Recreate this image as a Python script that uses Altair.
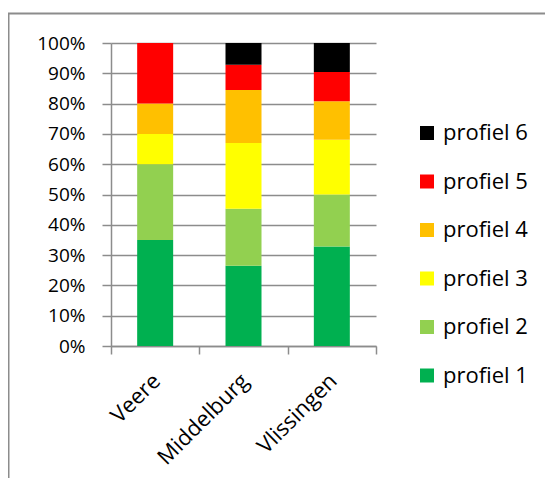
import altair as alt
import pandas as pd

categories = ["Veere", "Middelburg", "Vlissingen"]
profiles = ["profiel 1", "profiel 2", "profiel 3", "profiel 4", "profiel 5", "profiel 6"]
colors = ["#00B050", "#92D050", "#FFFF00", "#FFC000", "#FF0000", "#000000"]
p1 = [35.0, 26.5, 32.8]
p2 = [25.0, 18.8, 17.2]
p3 = [10.0, 21.7, 18.1]
p4 = [10.0, 17.5, 12.7]
p5 = [20.0, 8.3, 9.6]
p6 = [0.0, 7.2, 9.6]
y_ticks = [0, 0.1, 0.2, 0.3, 0.4, 0.5, 0.6, 0.7, 0.8, 0.9, 1.0]

series = [p1, p2, p3, p4, p5, p6]
rows = []
for i, (prof, vals) in enumerate(zip(profiles, series)):
    for cat, v in zip(categories, vals):
        rows.append({"gemeente": cat, "profiel": prof, "idx": i + 1, "waarde": v})
df = pd.DataFrame(rows)

FONT = "Open Sans"
GRAY = "#8c8c8c"

bars = alt.Chart(df).mark_bar(width=36).encode(
    x=alt.X("gemeente:N", sort=categories, title=None,
            scale=alt.Scale(paddingInner=0, paddingOuter=0),
            axis=alt.Axis(labelAngle=-45, labelAlign="right", labelBaseline="top",
                          labelFontSize=22, labelFont=FONT, labelColor="#000000",
                          tickBand="extent", tickSize=8, tickColor=GRAY, tickWidth=1.5,
                          domainColor=GRAY, domainWidth=1.5, labelPadding=16,
                          labelOffset=-6)),
    y=alt.Y("waarde:Q", stack="normalize", title=None,
            scale=alt.Scale(domain=[0, 1], nice=False),
            axis=alt.Axis(values=y_ticks, format=".0%", labelFontSize=19, labelFont=FONT,
                          labelColor="#000000", grid=True, gridColor=GRAY, gridWidth=1.5,
                          tickSize=9, tickColor=GRAY, tickWidth=1.5,
                          domainColor=GRAY, domainWidth=1.5, labelPadding=17)),
    color=alt.Color("profiel:N",
                    scale=alt.Scale(domain=profiles[::-1], range=colors[::-1]),
                    legend=alt.Legend(title=None, orient="none", legendX=305, legendY=79,
                                      symbolType="square", symbolSize=196,
                                      symbolStrokeWidth=0, labelFontSize=22, labelFont=FONT,
                                      labelColor="#000000", labelOffset=5, rowPadding=26.5)),
    order=alt.Order("idx:Q", sort="ascending"),
)

frame_df = pd.DataFrame({"a": [0]})
vline = alt.Chart(frame_df).mark_rule(color=GRAY, strokeWidth=2).encode(
    x=alt.value(-102.5), y=alt.value(-29.5), y2=alt.value(600))
hline = alt.Chart(frame_df).mark_rule(color=GRAY, strokeWidth=2).encode(
    x=alt.value(-103.5), x2=alt.value(600), y=alt.value(-29.5))

chart = alt.layer(vline, hline, bars).properties(
    width=265, height=303,
    autosize=alt.AutoSizeParams(type="none"),
    padding={"left": 103, "top": 35, "right": 169, "bottom": 132},
).configure_view(stroke=None)

chart.save("out.html", embed_options={"renderer": "svg", "actions": False})
